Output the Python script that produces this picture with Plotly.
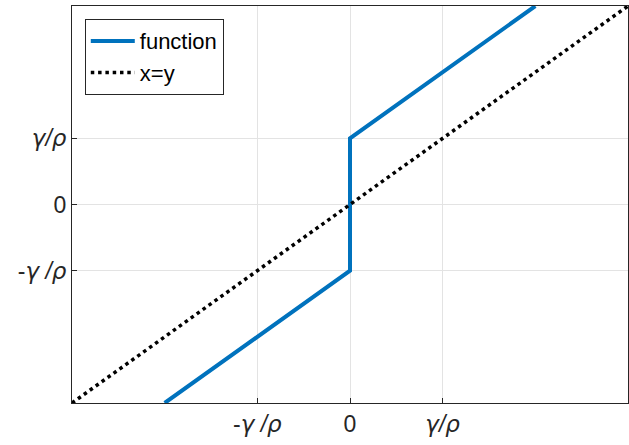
import plotly.graph_objects as go

# Soft-thresholding style function: y = x - g for x < 0, jump at 0, y = x + g for x > 0 (g = gamma/rho = 1)
func_x = [-2, 0, 0, 2]
func_y = [-3, -1, 1, 3]

# Identity reference line
ident_x = [-3, 3]
ident_y = [-3, 3]

tick_vals = [-1, 0, 1]
greek = '<span style="font-family:DejaVu Sans">{}</span>'
neg_label = "-<i>" + greek.format("γ") + " /" + greek.format("ρ") + "</i>"
pos_label = "<i>" + greek.format("γ") + "/" + greek.format("ρ") + "</i>"
x_tick_text = [neg_label, "0", pos_label]
y_tick_text = [neg_label, "0", pos_label]

axis_color = "#262626"
grid_color = "#e3e3e3"
font_family = "Liberation Sans, Arial, sans-serif"

fig = go.Figure()
fig.add_trace(go.Scatter(
    x=func_x, y=func_y, mode="lines", name="function",
    line=dict(color="#0072BD", width=4),
))
fig.add_trace(go.Scatter(
    x=ident_x, y=ident_y, mode="lines", name="x=y",
    line=dict(color="black", width=3.5, dash="3.5px,3.8px"),
))

common_axis = dict(
    range=[-3, 3],
    tickvals=tick_vals,
    showline=True, mirror=True, linecolor=axis_color, linewidth=1,
    showgrid=True, gridcolor=grid_color, gridwidth=1,
    zeroline=False,
    ticks="inside", ticklen=5, tickcolor=axis_color,
    tickfont=dict(family=font_family, size=23, color=axis_color),
)

fig.update_xaxes(ticktext=x_tick_text, **common_axis)
fig.update_yaxes(ticktext=y_tick_text, **common_axis)

fig.update_layout(
    width=629, height=445,
    margin=dict(l=72, r=1, t=6, b=42),
    plot_bgcolor="white", paper_bgcolor="white",
    font=dict(family=font_family, color=axis_color),
    showlegend=True,
    legend=dict(
        x=0.023, y=0.967, xanchor="left", yanchor="top",
        bgcolor="white", bordercolor=axis_color, borderwidth=1,
        font=dict(family=font_family, size=22, color="black"),
        itemwidth=44, tracegroupgap=0,
    ),
)

fig.write_html("out.html")
